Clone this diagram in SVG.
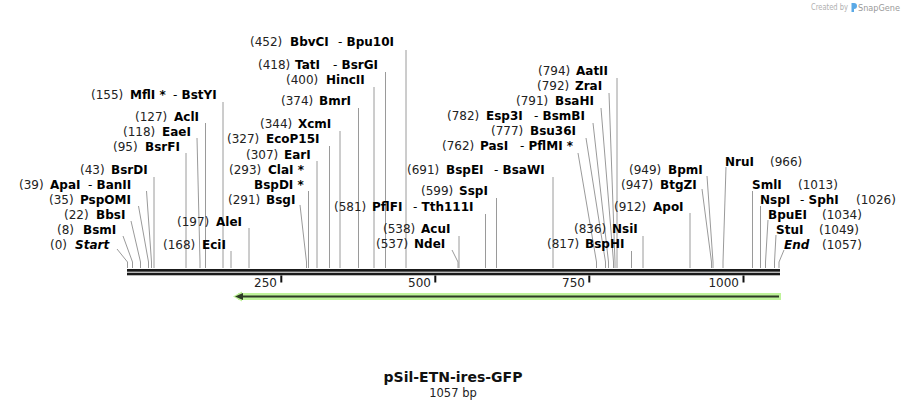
<svg xmlns="http://www.w3.org/2000/svg" width="908" height="408" viewBox="0 0 908 408">
<style>
text{font-family:"DejaVu Sans",Verdana,sans-serif;font-size:12px;fill:#111}
.n{font-weight:normal;fill:#222}
.e{font-weight:bold;fill:#000}
.i{font-style:italic}
.l{stroke:#9a9a9a;stroke-width:1;fill:none}
.t{font-size:14px;font-weight:bold}
.s{font-size:11.5px}
.w{font-size:8px;fill:#b0b0b0}
</style>
<rect width="908" height="408" fill="#fff"/>
<g id="watermark">
<text class="w" x="811" y="10" textLength="37" lengthAdjust="spacingAndGlyphs">Created by</text>
<path d="M851.5 3 h2.5 q3 0 3 3 q0 3 -3 3 v3 h-2.5 z" fill="#5aa9e6"/>
<text class="w" x="858" y="10.5" textLength="42" lengthAdjust="spacingAndGlyphs" style="font-size:9.5px;fill:#9a9a9a">SnapGene</text>
</g>
<g id="connectors">
<polyline class="l" points="117,249 127.5,262 127.5,268"/>
<polyline class="l" points="123,236 132.5,262 132.5,268"/>
<polyline class="l" points="131,221 140.5,262 140.5,268"/>
<polyline class="l" points="138.5,206 148.5,262 148.5,268"/>
<polyline class="l" points="146.5,191 151.5,262 151.5,268"/>
<polyline class="l" points="154,177 154,268"/>
<polyline class="l" points="186,153 186,268"/>
<polyline class="l" points="197,138 200,262 200,268"/>
<polyline class="l" points="205.5,123 205.5,268"/>
<polyline class="l" points="223,102 223,268"/>
<polyline class="l" points="231,251 231,268"/>
<polyline class="l" points="249,228 249,268"/>
<polyline class="l" points="300,205 306.5,262 306.5,268"/>
<polyline class="l" points="308.5,191 308.5,268"/>
<polyline class="l" points="317,161 317,268"/>
<polyline class="l" points="329.5,146 329.5,268"/>
<polyline class="l" points="340,131 340,268"/>
<polyline class="l" points="358.5,108 358.5,268"/>
<polyline class="l" points="374,87 374,268"/>
<polyline class="l" points="385.5,72 385.5,268"/>
<polyline class="l" points="406,50 406,268"/>
<polyline class="l" points="452,250 458,262 458,268"/>
<polyline class="l" points="459,236 459,268"/>
<polyline class="l" points="485.5,214 485.5,268"/>
<polyline class="l" points="496.5,198 496.5,268"/>
<polyline class="l" points="553,177 553,268"/>
<polyline class="l" points="578,153 596.5,262 596.5,268"/>
<polyline class="l" points="586,138 605.5,262 605.5,268"/>
<polyline class="l" points="593,123 608.5,262 608.5,268"/>
<polyline class="l" points="601,108 613.5,262 613.5,268"/>
<polyline class="l" points="609,93 615,262 615,268"/>
<polyline class="l" points="617,78 617,268"/>
<polyline class="l" points="631.5,251 631.5,268"/>
<polyline class="l" points="643,236 643,268"/>
<polyline class="l" points="690,213 690,268"/>
<polyline class="l" points="702,189 711.5,262 711.5,268"/>
<polyline class="l" points="707,176 713,262 713,268"/>
<polyline class="l" points="726,167 723,262 723,268"/>
<polyline class="l" points="752.5,191 752.5,268"/>
<polyline class="l" points="760.5,206 760.5,268"/>
<polyline class="l" points="768,220 765.5,262 765.5,268"/>
<polyline class="l" points="776,235 774.5,262 774.5,268"/>
<polyline class="l" points="784,250 779,262 779,268"/>
</g>
<g id="backbone">
<rect x="127" y="269" width="653" height="2.7" fill="#1a1a1a"/>
<rect x="127" y="272.7" width="653" height="2.6" fill="#1a1a1a"/>
<rect x="280.3" y="275.5" width="2" height="7" fill="#111"/>
<rect x="434.3" y="275.5" width="2" height="7" fill="#111"/>
<rect x="588.3" y="275.5" width="2" height="7" fill="#111"/>
<rect x="742.5" y="275.5" width="2" height="7" fill="#111"/>
<text class="n" x="277" y="287" text-anchor="end">250</text>
<text class="n" x="431" y="287" text-anchor="end">500</text>
<text class="n" x="585" y="287" text-anchor="end">750</text>
<text class="n" x="739" y="287" text-anchor="end">1000</text>
</g>
<g id="feature">
<rect x="238" y="293" width="543" height="7" fill="#bff39a"/>
<polygon points="233,296.5 242,291.5 242,301.5" fill="#bff39a"/>
<line x1="240" y1="296.5" x2="779" y2="296.5" stroke="#2d3b25" stroke-width="2"/>
<polygon points="235,296.5 243,293 243,300" fill="#2d3b25"/>
</g>
<g id="n-start"><text class="n" x="50" y="249">(0)</text><text class="e i" x="75" y="249">Start</text></g>
<g id="n-bsmi"><text class="n" x="57" y="234">(8)</text><text class="e" x="83" y="234">BsmI</text></g>
<g id="n-bbsi"><text class="n" x="64" y="219">(22)</text><text class="e" x="96" y="219">BbsI</text></g>
<g id="n-pspomi"><text class="n" x="49" y="204">(35)</text><text class="e" x="80" y="204">PspOMI</text></g>
<g id="n-apai"><text class="n" x="19" y="189">(39)</text><text class="e" x="50" y="189">ApaI</text><text class="e" x="88" y="189"><tspan style="font-weight:normal">-</tspan> BanII</text></g>
<g id="n-bsrdi"><text class="n" x="80" y="174">(43)</text><text class="e" x="111" y="174">BsrDI</text></g>
<g id="n-bsrfi"><text class="n" x="113" y="151">(95)</text><text class="e" x="145" y="151">BsrFI</text></g>
<g id="n-eaei"><text class="n" x="123" y="136">(118)</text><text class="e" x="162" y="136">EaeI</text></g>
<g id="n-acli"><text class="n" x="135" y="121">(127)</text><text class="e" x="174" y="121">AclI</text></g>
<g id="n-mfli"><text class="n" x="91" y="99">(155)</text><text class="e" x="130" y="99">MflI *</text><text class="e" x="173" y="99"><tspan style="font-weight:normal">-</tspan> BstYI</text></g>
<g id="n-ecii"><text class="n" x="163" y="249">(168)</text><text class="e" x="202" y="249">EciI</text></g>
<g id="n-alei"><text class="n" x="177" y="226">(197)</text><text class="e" x="216" y="226">AleI</text></g>
<g id="n-bsgi"><text class="n" x="228" y="204">(291)</text><text class="e" x="266" y="204">BsgI</text></g>
<g id="n-bspdi"><text class="e" x="254" y="189">BspDI *</text></g>
<g id="n-clai"><text class="n" x="229" y="174">(293)</text><text class="e" x="268" y="174">ClaI *</text></g>
<g id="n-eari"><text class="n" x="246" y="159">(307)</text><text class="e" x="284" y="159">EarI</text></g>
<g id="n-ecop15i"><text class="n" x="227" y="143">(327)</text><text class="e" x="266" y="143">EcoP15I</text></g>
<g id="n-xcmi"><text class="n" x="260" y="128">(344)</text><text class="e" x="298" y="128">XcmI</text></g>
<g id="n-bmri"><text class="n" x="281" y="105">(374)</text><text class="e" x="319" y="105">BmrI</text></g>
<g id="n-hincii"><text class="n" x="286" y="84">(400)</text><text class="e" x="326" y="84">HincII</text></g>
<g id="n-tati"><text class="n" x="258" y="69">(418)</text><text class="e" x="295" y="69">TatI</text><text class="e" x="333" y="69"><tspan style="font-weight:normal">-</tspan> BsrGI</text></g>
<g id="n-bbvci"><text class="n" x="250" y="46">(452)</text><text class="e" x="290" y="46">BbvCI</text><text class="e" x="338" y="46"><tspan style="font-weight:normal">-</tspan> Bpu10I</text></g>
<g id="n-ndei"><text class="n" x="376" y="248">(537)</text><text class="e" x="414" y="248">NdeI</text></g>
<g id="n-acui"><text class="n" x="383" y="233">(538)</text><text class="e" x="421" y="233">AcuI</text></g>
<g id="n-pflfi"><text class="n" x="334" y="211">(581)</text><text class="e" x="372" y="211">PflFI</text><text class="e" x="413" y="211"><tspan style="font-weight:normal">-</tspan> Tth111I</text></g>
<g id="n-sspi"><text class="n" x="421" y="195">(599)</text><text class="e" x="459" y="195">SspI</text></g>
<g id="n-bspei"><text class="n" x="407" y="174">(691)</text><text class="e" x="446" y="174">BspEI</text><text class="e" x="494" y="174"><tspan style="font-weight:normal">-</tspan> BsaWI</text></g>
<g id="n-pasi"><text class="n" x="442" y="150">(762)</text><text class="e" x="480" y="150">PasI</text><text class="e" x="520" y="150"><tspan style="font-weight:normal">-</tspan> PflMI *</text></g>
<g id="n-bsu36i"><text class="n" x="491" y="135">(777)</text><text class="e" x="530" y="135">Bsu36I</text></g>
<g id="n-esp3i"><text class="n" x="447" y="120">(782)</text><text class="e" x="486" y="120">Esp3I</text><text class="e" x="534" y="120"><tspan style="font-weight:normal">-</tspan> BsmBI</text></g>
<g id="n-bsahi"><text class="n" x="516" y="105">(791)</text><text class="e" x="555" y="105">BsaHI</text></g>
<g id="n-zrai"><text class="n" x="537" y="90">(792)</text><text class="e" x="575" y="90">ZraI</text></g>
<g id="n-aatii"><text class="n" x="538" y="75">(794)</text><text class="e" x="576" y="75">AatII</text></g>
<g id="n-bsphi"><text class="n" x="547" y="248">(817)</text><text class="e" x="585" y="248">BspHI</text></g>
<g id="n-nsii"><text class="n" x="574" y="233">(836)</text><text class="e" x="612" y="233">NsiI</text></g>
<g id="n-apoi"><text class="n" x="614" y="211">(912)</text><text class="e" x="653" y="211">ApoI</text></g>
<g id="n-btgzi"><text class="n" x="621" y="189">(947)</text><text class="e" x="660" y="189">BtgZI</text></g>
<g id="n-bpmi"><text class="n" x="629" y="174">(949)</text><text class="e" x="668" y="174">BpmI</text></g>
<g id="n-nrui"><text class="e" x="725" y="166">NruI</text><text class="n" x="770" y="166">(966)</text></g>
<g id="n-smli"><text class="e" x="752" y="189">SmlI</text><text class="n" x="798" y="189">(1013)</text></g>
<g id="n-nspi"><text class="e" x="760" y="204">NspI</text><text class="e" x="800" y="204"><tspan style="font-weight:normal">-</tspan> SphI</text><text class="n" x="856" y="204">(1026)</text></g>
<g id="n-bpuei"><text class="e" x="768" y="219">BpuEI</text><text class="n" x="822" y="219">(1034)</text></g>
<g id="n-stui"><text class="e" x="776" y="234">StuI</text><text class="n" x="819" y="234">(1049)</text></g>
<g id="n-end"><text class="e i" x="784" y="249">End</text><text class="n" x="822" y="249">(1057)</text></g>
<g id="title">
<text class="t" x="453" y="382" text-anchor="middle">pSil-ETN-ires-GFP</text>
<text class="n s" x="453" y="397" text-anchor="middle">1057 bp</text>
</g>
</svg>
